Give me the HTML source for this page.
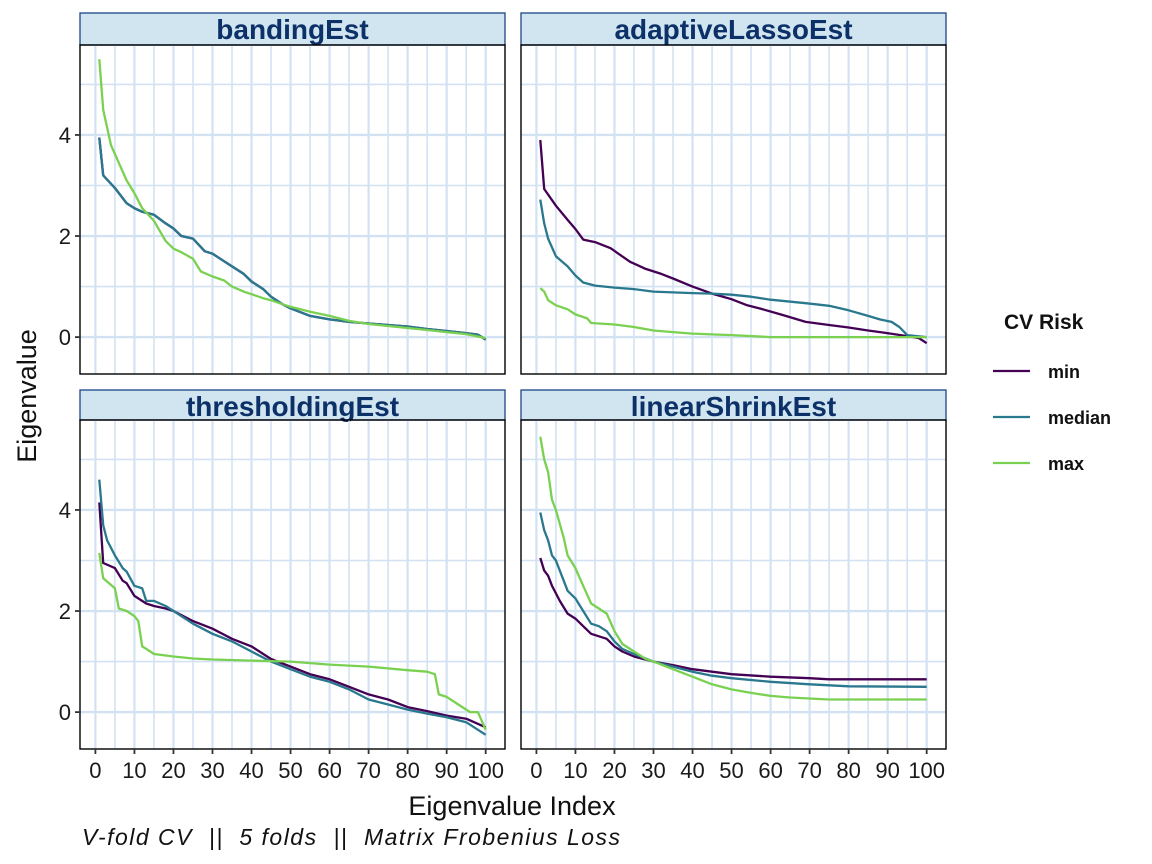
<!DOCTYPE html>
<html><head><meta charset="utf-8"><style>
body{margin:0;background:#fff;}
svg{display:block;font-family:"Liberation Sans",Arial,sans-serif;}
</style></head><body>
<svg id="chart" width="1152" height="864" viewBox="0 0 1152 864" xmlns="http://www.w3.org/2000/svg"></svg>
<script>
const panelNames = ["bandingEst","adaptiveLassoEst","thresholdingEst","linearShrinkEst"];
const seriesNames = ["min","median","max"];
const xTicks = [0,10,20,30,40,50,60,70,80,90,100];
const yTicks = [0,2,4];
// [index, value] pairs
const bandMed = [[1,3.95],[2,3.2],[5,2.95],[8,2.65],[10,2.55],[12,2.48],[15,2.42],[18,2.25],[20,2.15],[22,2.0],[25,1.95],[28,1.7],[30,1.65],[33,1.5],[35,1.4],[38,1.25],[40,1.1],[43,0.95],[45,0.8],[48,0.65],[50,0.57],[55,0.42],[60,0.35],[65,0.3],[70,0.27],[75,0.24],[80,0.21],[85,0.16],[90,0.12],[95,0.08],[98,0.05],[100,-0.05]];
const bandMin = bandMed;
const bandMax = [[1,5.5],[2,4.5],[4,3.8],[6,3.45],[8,3.1],[10,2.85],[12,2.55],[15,2.3],[18,1.9],[20,1.75],[22,1.68],[25,1.55],[27,1.3],[30,1.2],[33,1.12],[35,1.0],[38,0.9],[40,0.85],[43,0.77],[45,0.73],[48,0.65],[50,0.6],[55,0.5],[60,0.42],[65,0.32],[70,0.26],[75,0.22],[80,0.18],[85,0.14],[90,0.1],[95,0.06],[100,-0.02]];
const alMin = [[1,3.9],[2,2.93],[5,2.6],[8,2.32],[10,2.14],[12,1.93],[15,1.88],[19,1.76],[21,1.65],[24,1.49],[28,1.35],[32,1.25],[35,1.16],[40,1.0],[45,0.86],[50,0.75],[54,0.63],[58,0.55],[63,0.44],[69,0.3],[75,0.24],[80,0.19],[85,0.13],[89,0.09],[95,0.02],[98,-0.02],[100,-0.12]];
const alMed = [[1,2.72],[2,2.25],[3,1.95],[5,1.6],[8,1.4],[10,1.22],[12,1.08],[15,1.02],[20,0.98],[25,0.95],[30,0.9],[40,0.87],[45,0.86],[50,0.84],[55,0.8],[60,0.74],[69,0.67],[75,0.62],[80,0.53],[85,0.42],[88,0.35],[91,0.3],[93,0.2],[95,0.04],[100,0.0]];
const alMax = [[1,0.97],[2,0.9],[3,0.73],[5,0.63],[8,0.55],[10,0.45],[13,0.37],[14,0.28],[20,0.25],[25,0.2],[30,0.13],[35,0.1],[40,0.07],[50,0.04],[60,0.0],[100,0.0]];
const thMin = [[1,4.15],[2,2.95],[5,2.85],[7,2.6],[8,2.55],[10,2.3],[13,2.15],[15,2.1],[18,2.05],[20,2.0],[25,1.8],[30,1.65],[35,1.45],[40,1.3],[45,1.05],[50,0.9],[55,0.75],[60,0.65],[65,0.5],[70,0.35],[75,0.25],[80,0.1],[85,0.02],[90,-0.07],[95,-0.13],[100,-0.3]];
const thMed = [[1,4.6],[2,3.7],[3,3.4],[5,3.1],[7,2.85],[8,2.78],[10,2.5],[12,2.45],[13,2.2],[15,2.2],[18,2.1],[20,2.0],[25,1.75],[30,1.55],[35,1.4],[40,1.2],[45,1.0],[50,0.85],[55,0.7],[60,0.6],[65,0.45],[70,0.25],[75,0.15],[80,0.05],[85,-0.03],[90,-0.1],[95,-0.2],[100,-0.45]];
const thMax = [[1,3.15],[2,2.65],[5,2.45],[6,2.05],[8,2.0],[10,1.9],[11,1.8],[12,1.3],[13,1.25],[15,1.15],[20,1.1],[25,1.06],[30,1.04],[40,1.02],[50,1.0],[55,0.97],[60,0.94],[70,0.9],[80,0.83],[85,0.8],[87,0.75],[88,0.35],[90,0.3],[92,0.2],[94,0.1],[96,0.0],[98,0.0],[100,-0.35]];
const lsMin = [[1,3.05],[2,2.8],[3,2.7],[4,2.5],[6,2.2],[8,1.95],[10,1.85],[12,1.7],[14,1.55],[16,1.5],[18,1.45],[20,1.3],[22,1.2],[25,1.1],[30,1.0],[35,0.93],[40,0.85],[45,0.8],[50,0.75],[60,0.7],[70,0.67],[75,0.65],[100,0.65]];
const lsMed = [[1,3.95],[2,3.6],[3,3.4],[4,3.1],[5,3.0],[7,2.6],[8,2.4],[10,2.25],[12,2.0],[14,1.75],[16,1.7],[18,1.6],[20,1.4],[22,1.25],[25,1.15],[30,1.0],[35,0.9],[40,0.8],[45,0.72],[50,0.67],[60,0.6],[70,0.55],[80,0.51],[100,0.5]];
const lsMax = [[1,5.45],[2,5.0],[3,4.75],[4,4.2],[5,4.0],[7,3.45],[8,3.1],[10,2.85],[12,2.5],[14,2.15],[16,2.05],[18,1.95],[20,1.6],[22,1.35],[25,1.2],[28,1.05],[30,1.0],[35,0.85],[40,0.7],[45,0.55],[50,0.45],[55,0.38],[60,0.32],[65,0.29],[70,0.27],[75,0.25],[100,0.25]];
const panelData = [[bandMin,bandMed,bandMax],[alMin,alMed,alMax],[thMin,thMed,thMax],[lsMin,lsMed,lsMax]];
const colors = ["#440154","#2a788e","#7ad151"];

const NS="http://www.w3.org/2000/svg";
const svg=document.getElementById("chart");
function mk(tag,attrs,parent){const e=document.createElementNS(NS,tag);for(const k in attrs)e.setAttribute(k,attrs[k]);(parent||svg).appendChild(e);return e;}
const panels=[{x:80,y:45,s:13},{x:521,y:45,s:13},{x:80,y:420,s:390},{x:521,y:420,s:390}];
const PW=425, PH=329, X0=-3.95, X1=104.95, Y0=-0.73, Y1=5.78;
panels.forEach((p,pi)=>{
  const g=mk("g",{});
  
  
  const sx=v=>p.x+(v-X0)/(X1-X0)*PW;
  const sy=v=>p.y+PH-(v-Y0)/(Y1-Y0)*PH;
  const strip=mk("rect",{x:p.x,y:p.s,width:PW,height:p.y-p.s,fill:"#d1e5f0",stroke:"#1c4587","stroke-width":1.3},g);
  
  
  const st=mk("text",{x:p.x+PW/2,y:p.s+26,"text-anchor":"middle","font-size":28,"font-weight":"bold",fill:"#0c3068"},g);
  st.textContent=panelNames[pi];
  
  
  for(let v=0;v<=100;v+=5){mk("line",{x1:sx(v),x2:sx(v),y1:p.y,y2:p.y+PH,stroke:"#d3e2f2","stroke-width":v%10?1.6:2.2},g);}
  for(let v=0;v<=5;v++){mk("line",{x1:p.x,x2:p.x+PW,y1:sy(v),y2:sy(v),stroke:"#d3e2f2","stroke-width":v%2?1.6:2.4},g);}
  panelData[pi].forEach((ser,si)=>{
    const pl=mk("polyline",{points:ser.map(d=>sx(d[0]).toFixed(1)+","+sy(d[1]).toFixed(1)).join(" "),fill:"none",stroke:colors[si],"stroke-width":2.3,"stroke-linejoin":"round"},g);
    
    
  });
  mk("rect",{x:p.x,y:p.y,width:PW,height:PH,fill:"none",stroke:"#000","stroke-width":1.4},g);
  if(pi%2===0){
    yTicks.forEach(v=>{
      mk("line",{x1:p.x-5,x2:p.x,y1:sy(v),y2:sy(v),stroke:"#333","stroke-width":1.8},g);
      const t=mk("text",{x:p.x-9,y:sy(v)+8,"text-anchor":"end","font-size":22,fill:"#1a1a1a"},g);
      t.textContent=v;
      
      
    });
  }
  if(pi>=2){
    xTicks.forEach(v=>{
      mk("line",{x1:sx(v),x2:sx(v),y1:p.y+PH,y2:p.y+PH+5,stroke:"#333","stroke-width":1.8},g);
      const t=mk("text",{x:sx(v),y:p.y+PH+29,"text-anchor":"middle","font-size":22,fill:"#1a1a1a"},g);
      t.textContent=v;
      
      
    });
  }
});
</script>
<svg style="position:absolute;left:0;top:0" width="1152" height="864">
<text x="36" y="396" transform="rotate(-90 36 396)" text-anchor="middle" font-size="27" fill="#111" font-family="Liberation Sans, sans-serif">Eigenvalue</text>
<text x="512" y="815" text-anchor="middle" font-size="27" fill="#111" font-family="Liberation Sans, sans-serif">Eigenvalue Index</text>
<text x="82" y="845" font-size="23" font-style="italic" fill="#111" font-family="Liberation Sans, sans-serif" xml:space="preserve" style="white-space:pre" textLength="538" lengthAdjust="spacing">V-fold CV  ||  5 folds  ||  Matrix Frobenius Loss</text>
<g font-family="Liberation Sans, sans-serif">
<text x="1004" y="329" font-size="21" font-weight="bold" fill="#111">CV Risk</text>
<line x1="993" x2="1030" y1="371" y2="371" stroke="#440154" stroke-width="2.3"/>
<text x="1048" y="378" font-size="18" font-weight="bold" fill="#111">min</text>
<line x1="993" x2="1030" y1="417" y2="417" stroke="#2a788e" stroke-width="2.3"/>
<text x="1048" y="424" font-size="18" font-weight="bold" fill="#111">median</text>
<line x1="993" x2="1030" y1="463" y2="463" stroke="#7ad151" stroke-width="2.3"/>
<text x="1048" y="470" font-size="18" font-weight="bold" fill="#111">max</text>
</g>
</svg>
</body></html>
